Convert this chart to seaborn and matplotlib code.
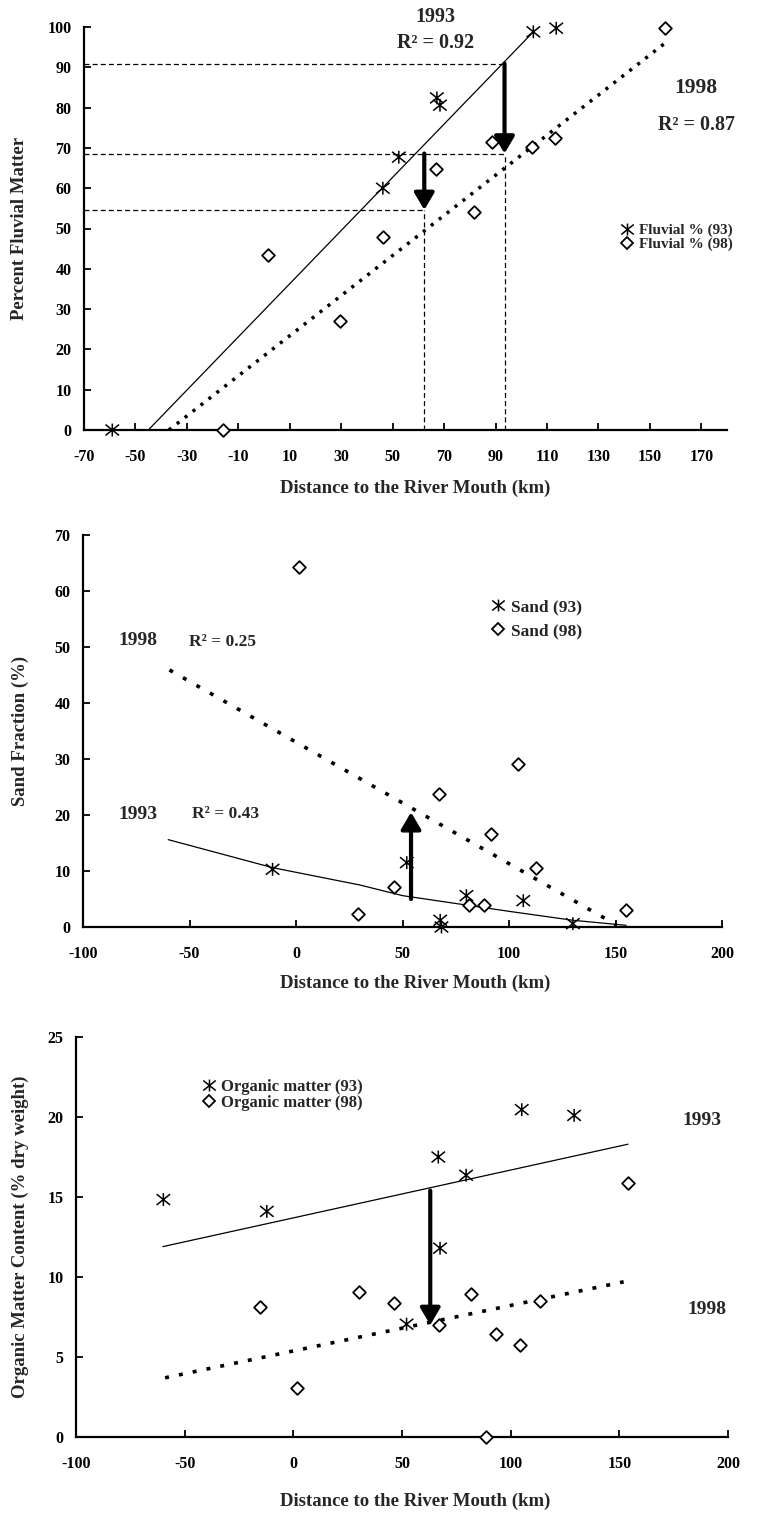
import numpy as np
import pandas as pd
import matplotlib
matplotlib.use("Agg")
import matplotlib.pyplot as plt
import seaborn as sns
from matplotlib.lines import Line2D
from matplotlib.path import Path

# ---------------- data ----------------
# Panel 1: percent fluvial matter
fluv93_x = [-59.0, 46.2, 52.4, 67.2, 68.4, 104.7, 113.6]
fluv93_y = [0.0, 60.0, 67.7, 82.4, 80.6, 98.8, 99.7]
fluv98_x = [-15.8, 1.7, 29.4, 46.1, 66.8, 81.7, 88.7, 104.3, 113.2, 155.7]
fluv98_y = [0.0, 43.4, 27.0, 47.9, 64.7, 54.0, 71.4, 70.3, 72.5, 99.7]
fluv93_fit_x = [-45.0, 104.7]
fluv93_fit_y = [0.0, 98.8]
fluv98_fit_x = [-37.0, 156.5]
fluv98_fit_y = [0.0, 96.3]
fluv_guide_levels = [90.9, 68.6, 54.6]
fluv_guide_dist = [93.5, 62.3]

# Panel 2: sand fraction
sand93_x = [-11.0, 52.0, 67.7, 68.3, 80.0, 106.7, 130.0]
sand93_y = [10.3, 11.5, 1.2, 0.0, 5.6, 4.7, 0.6]
sand98_x = [1.6, 29.2, 45.8, 67.0, 81.3, 88.1, 91.7, 104.1, 112.5, 155.0]
sand98_y = [64.3, 2.3, 7.1, 23.8, 3.9, 3.9, 16.6, 29.1, 10.6, 3.1]
sand93_fit_x = [-60.0, -11.0, 30.0, 50.0, 100.0, 130.0, 155.0]
sand93_fit_y = [15.6, 10.6, 7.5, 5.6, 2.8, 1.2, 0.3]
sand98_fit_x = [-59.4, 150.3]
sand98_fit_y = [45.9, 0.4]
sand_arrow = [54.0, 5.0, 20.5]

# Panel 3: organic matter
org93_x = [-59.8, -12.2, 52.1, 66.7, 67.5, 79.5, 105.1, 129.2]
org93_y = [14.84, 14.1, 7.05, 17.5, 11.8, 16.36, 20.46, 20.1]
org98_x = [-15.3, 1.6, 30.3, 46.5, 67.2, 81.6, 88.8, 93.3, 104.5, 113.5, 154.0]
org98_y = [8.12, 3.04, 9.07, 8.4, 7.0, 8.95, 0.0, 6.43, 5.74, 8.48, 15.9]
org93_fit_x = [-60.0, 154.0]
org93_fit_y = [11.9, 18.3]
org98_fit_x = [-59.0, 152.0]
org98_fit_y = [3.7, 9.7]
org_arrow = [63.0, 15.4, 7.0]

# ---------------- style ----------------
sns.set_theme(style="ticks")
plt.rcParams["font.family"] = ["Liberation Serif", "DejaVu Serif"]
plt.rcParams["font.weight"] = "bold"
plt.rcParams["axes.labelweight"] = "bold"
plt.rcParams["axes.unicode_minus"] = False

# asterisk: an X with a vertical stroke
STAR = Path([(0, -0.95), (0, 0.95), (-1, -0.8), (1, 0.8), (-1, 0.8), (1, -0.8)],
            [Path.MOVETO, Path.LINETO, Path.MOVETO, Path.LINETO, Path.MOVETO, Path.LINETO])
FS_TICK = 11.5
FS_LAB = 13.5

fig = plt.figure(figsize=(7.6, 15.14), dpi=100)
W, H = 760.0, 1514.0


def make_ax(x0, x1, ytop, ybot):
    return fig.add_axes([x0 / W, 1 - ybot / H, (x1 - x0) / W, (ybot - ytop) / H])


def style_ax(ax):
    sns.despine(ax=ax)
    for s in ("left", "bottom"):
        ax.spines[s].set_linewidth(1.6)
        ax.spines[s].set_color("black")
    ax.tick_params(axis="both", direction="in", length=5, width=1.3,
                   colors="black", labelsize=FS_TICK)
    ax.tick_params(axis="x", pad=14)
    ax.tick_params(axis="y", pad=9)
    for lab in ax.get_xticklabels() + ax.get_yticklabels():
        lab.set_fontweight("bold")
    ax.set_facecolor("white")


def stars(ax, x, y):
    sns.scatterplot(x=x, y=y, marker=STAR, s=95, facecolor="none", edgecolor="black",
                    linewidth=1.1, ax=ax, clip_on=False, zorder=5)


def diamonds(ax, x, y):
    sns.scatterplot(x=x, y=y, marker="D", s=42, facecolor="white",
                    edgecolor="black", linewidth=1.3, ax=ax, clip_on=False, zorder=5)


def legend(ax, labels, bx, by, fs, spacing):
    handles = [
        Line2D([], [], marker=STAR, ls="none", mfc="none", mec="black", ms=9, mew=1.1),
        Line2D([], [], marker="D", ls="none", mfc="white", mec="black", ms=6.5, mew=1.3),
    ]
    ax.legend(handles, labels, loc="center left", bbox_to_anchor=(bx, by),
              frameon=False, handlelength=0.9, handletextpad=0.3, borderpad=0,
              borderaxespad=0, labelspacing=spacing,
              prop={"family": "Liberation Serif", "weight": "bold", "size": fs})


# ================= Panel 1 =================
ax1 = make_ax(84, 727, 27, 430)
ax1.set_xlim(-70, 180)
ax1.set_ylim(0, 100)
ax1.set_xticks(np.arange(-70, 171, 20))
ax1.set_yticks(np.arange(0, 101, 10))
style_ax(ax1)

ax1.plot(fluv93_fit_x, fluv93_fit_y, color="black", lw=0.9, zorder=3)
ax1.plot(fluv98_fit_x, fluv98_fit_y, color="black", lw=2.5,
         ls=(0, (0.9, 2.0)), zorder=3)

dash = (0, (4, 2.5))
hi, mid, lo = fluv_guide_levels
far, near = fluv_guide_dist
ax1.plot([-70, far], [hi, hi], color="black", lw=0.9, ls=dash)
ax1.plot([-70, far], [mid, mid], color="black", lw=0.9, ls=dash)
ax1.plot([-70, near], [lo, lo], color="black", lw=0.9, ls=dash)
ax1.plot([far, far], [0, mid], color="black", lw=0.9, ls=dash)
ax1.plot([near, near], [0, lo], color="black", lw=0.9, ls=dash)
arrow_kw = dict(arrowstyle="-|>,head_length=0.85,head_width=0.5", lw=3,
                color="black", shrinkA=0, shrinkB=0)
ax1.annotate("", xy=(far, mid), xytext=(far, hi), arrowprops=arrow_kw, zorder=6)
ax1.annotate("", xy=(near, lo), xytext=(near, mid), arrowprops=arrow_kw, zorder=6)

stars(ax1, fluv93_x, fluv93_y)
diamonds(ax1, fluv98_x, fluv98_y)

tk = dict(ha="center", va="center", fontsize=14.5, fontweight="bold", clip_on=False)
ax1.text(66.5, 102.5, "1993", **tk)
ax1.text(66.5, 96.0, "R² = 0.92", **tk)
ax1.text(168, 84.8, "1998", ha="center", va="center", fontsize=15.5, fontweight="bold")
ax1.text(168, 75.7, "R² = 0.87", **tk)

legend(ax1, ["Fluvial % (93)", "Fluvial % (98)"], 0.834, 0.478, 11, 0.0)

ax1.set_ylabel("Percent Fluvial Matter", fontsize=FS_LAB, fontweight="bold")
ax1.set_xlabel("Distance to the River Mouth (km)", fontsize=FS_LAB, fontweight="bold")
ax1.yaxis.set_label_coords((20 - 84) / 643, 0.5)
ax1.xaxis.set_label_coords((415 - 84) / 643, (430 - 488) / 403)
ax1.xaxis.label.set_va("center")
ax1.yaxis.label.set_va("center")

# ================= Panel 2 =================
ax2 = make_ax(83, 722, 535, 927)
ax2.set_xlim(-100, 200)
ax2.set_ylim(0, 70)
ax2.set_xticks(np.arange(-100, 201, 50))
ax2.set_yticks(np.arange(0, 71, 10))
style_ax(ax2)

ax2.plot(sand93_fit_x, sand93_fit_y, color="black", lw=0.9, zorder=3)
ax2.plot(sand98_fit_x, sand98_fit_y, color="black", lw=2.6,
         ls=(0, (1.1, 3.2)), zorder=3)
ax2.annotate("", xy=(sand_arrow[0], sand_arrow[2]),
             xytext=(sand_arrow[0], sand_arrow[1]), arrowprops=arrow_kw, zorder=6)

stars(ax2, sand93_x, sand93_y)
diamonds(ax2, sand98_x, sand98_y)

ax2.text(-74.4, 51.2, "1998", ha="center", va="center", fontsize=14, fontweight="bold")
ax2.text(-34.6, 50.9, "R² = 0.25", ha="center", va="center", fontsize=12.5, fontweight="bold")
ax2.text(-74.4, 20.1, "1993", ha="center", va="center", fontsize=14, fontweight="bold")
ax2.text(-33.1, 20.1, "R² = 0.43", ha="center", va="center", fontsize=12.5, fontweight="bold")

legend(ax2, ["Sand (93)", "Sand (98)"], (496.7 - 7 - 83) / 639, 0.785, 12.5, 0.45)

ax2.set_ylabel("Sand Fraction (%)", fontsize=FS_LAB, fontweight="bold")
ax2.set_xlabel("Distance to the River Mouth (km)", fontsize=FS_LAB, fontweight="bold")
ax2.yaxis.set_label_coords((20 - 83) / 639, 0.5)
ax2.xaxis.set_label_coords((415 - 83) / 639, (927 - 983.3) / 392)
ax2.xaxis.label.set_va("center")
ax2.yaxis.label.set_va("center")

# ================= Panel 3 =================
ax3 = make_ax(76, 728, 1037, 1437)
ax3.set_xlim(-100, 200)
ax3.set_ylim(0, 25)
ax3.set_xticks(np.arange(-100, 201, 50))
ax3.set_yticks(np.arange(0, 26, 5))
style_ax(ax3)

ax3.plot(org93_fit_x, org93_fit_y, color="black", lw=0.9, zorder=3)
ax3.plot(org98_fit_x, org98_fit_y, color="black", lw=2.6,
         ls=(0, (1.1, 2.8)), zorder=3)
ax3.annotate("", xy=(org_arrow[0], org_arrow[2]),
             xytext=(org_arrow[0], org_arrow[1]), arrowprops=arrow_kw, zorder=6)

stars(ax3, org93_x, org93_y)
diamonds(ax3, org98_x, org98_y)

ax3.text(188, 19.8, "1993", ha="center", va="center", fontsize=14, fontweight="bold", clip_on=False)
ax3.text(190.5, 8.0, "1998", ha="center", va="center", fontsize=14, fontweight="bold", clip_on=False)

legend(ax3, ["Organic matter (93)", "Organic matter (98)"], (208.3 - 7 - 76) / 652,
       0.8555, 12, 0.0)

ax3.set_ylabel("Organic Matter Content (% dry weight)", fontsize=FS_LAB, fontweight="bold")
ax3.set_xlabel("Distance to the River Mouth (km)", fontsize=FS_LAB, fontweight="bold")
ax3.yaxis.set_label_coords((20 - 76) / 652, 0.5)
ax3.xaxis.set_label_coords((415 - 76) / 652, (1436.7 - 1501) / 400)
ax3.xaxis.label.set_va("center")
ax3.yaxis.label.set_va("center")

fig.savefig("out.png", dpi=100, facecolor="white")
